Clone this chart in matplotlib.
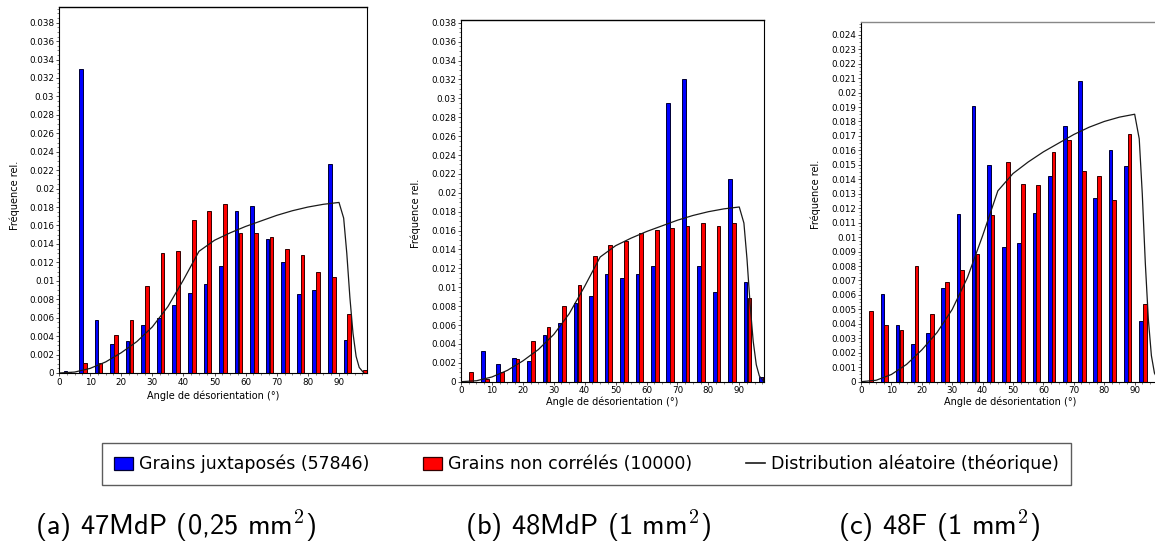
import numpy as np
import matplotlib
matplotlib.use("Agg")
import matplotlib.pyplot as plt
from matplotlib.patches import Patch
from matplotlib.lines import Line2D
from matplotlib.ticker import MultipleLocator, AutoMinorLocator, FuncFormatter
from matplotlib import font_manager

# 5 degree bins
bin_centres = np.arange(2.5, 100, 5)

# (a) 47MdP
a_juxt = [0.0002, 0.0330, 0.0058, 0.0031, 0.0035, 0.0052, 0.0060, 0.0074, 0.0087, 0.0097,
          0.0116, 0.0176, 0.0181, 0.0145, 0.0120, 0.0086, 0.0090, 0.0227, 0.0036, 0.0000]
a_noncorr = [0.0001, 0.0011, 0.0011, 0.0041, 0.0058, 0.0094, 0.0130, 0.0132, 0.0166, 0.0176,
             0.0183, 0.0152, 0.0152, 0.0147, 0.0134, 0.0128, 0.0110, 0.0104, 0.0064, 0.0003]

# (b) 48MdP
b_juxt = [0.0000, 0.0033, 0.0019, 0.0025, 0.0022, 0.0049, 0.0062, 0.0083, 0.0091, 0.0114,
          0.0110, 0.0114, 0.0122, 0.0295, 0.0320, 0.0122, 0.0095, 0.0215, 0.0106, 0.0005]
b_noncorr = [0.0010, 0.0003, 0.0010, 0.0024, 0.0043, 0.0058, 0.0080, 0.0102, 0.0133, 0.0145,
             0.0149, 0.0157, 0.0161, 0.0163, 0.0165, 0.0168, 0.0165, 0.0168, 0.0089, 0.0005]

# (c) 48F
c_juxt = [0.0000, 0.0061, 0.0039, 0.0026, 0.0034, 0.0065, 0.0116, 0.0191, 0.0150, 0.0093,
          0.0096, 0.0117, 0.0142, 0.0177, 0.0208, 0.0127, 0.0160, 0.0149, 0.0042, 0.0000]
c_noncorr = [0.0049, 0.0039, 0.0036, 0.0080, 0.0047, 0.0069, 0.0077, 0.0088, 0.0115, 0.0152,
             0.0137, 0.0136, 0.0159, 0.0167, 0.0146, 0.0142, 0.0126, 0.0171, 0.0054, 0.0000]

# theoretical random distribution
theo_angle = [0, 5, 10, 15, 20, 25, 30, 35, 40, 45, 50, 55, 60, 65, 70, 75, 80, 85, 90,
              91.5, 92.5, 93.5, 94.5, 95.5, 96.5, 98]
theo_freq = [0, 0.0001, 0.0005, 0.0012, 0.0022, 0.0034, 0.0050, 0.0072, 0.0101, 0.0132,
             0.0144, 0.0152, 0.0159, 0.0165, 0.0171, 0.0176, 0.0180, 0.0183, 0.0185,
             0.0168, 0.0130, 0.0082, 0.0043, 0.0018, 0.0006, 0.0]

legend_labels = ["Grains juxtaposés (57846)", "Grains non corrélés (10000)",
                 "Distribution aléatoire (théorique)"]
captions = [r"(a) 47MdP (0,25 mm$^2$)", r"(b) 48MdP (1 mm$^2$)", r"(c) 48F (1 mm$^2$)"]

plt.rcParams["mathtext.fontset"] = "cm"

W, H = 1155, 544
fig = plt.figure(figsize=(W / 100, H / 100), dpi=100)


def px_rect(left, top, right, bottom):
    return [left / W, 1 - bottom / H, (right - left) / W, (bottom - top) / H]


def fmt_freq(v, pos):
    s = f"{v:.3f}".rstrip("0").rstrip(".")
    return s if s else "0"


def draw_panel(rect, juxt, noncorr, xmax, ymax, ystep, ylab_xy, xlab_y, top_colour="black"):
    ax = fig.add_axes(rect)
    ax.bar(bin_centres - 0.45, juxt, width=1.2, color="#0000ff",
           edgecolor="#000033", linewidth=0.7)
    ax.bar(bin_centres + 0.8, noncorr, width=1.2, color="#ff0000",
           edgecolor="#330000", linewidth=0.7)
    ax.plot(theo_angle, theo_freq, color="#1a1a1a", lw=0.9, zorder=3)
    ax.set_xlim(0, xmax)
    ax.set_ylim(0, ymax)
    ax.set_xticks(np.arange(0, 91, 10))
    ax.xaxis.set_minor_locator(MultipleLocator(2.5))
    ax.yaxis.set_major_locator(MultipleLocator(ystep))
    ax.yaxis.set_minor_locator(AutoMinorLocator(4))
    ax.yaxis.set_major_formatter(FuncFormatter(fmt_freq))
    ax.tick_params(which="major", length=2.2, width=0.6, labelsize=6.3, pad=1.2, color="#333333")
    ax.tick_params(which="minor", length=1.2, width=0.5, color="#555555")
    for side in ("left", "bottom", "right"):
        ax.spines[side].set_linewidth(0.8)
    ax.spines["top"].set_linewidth(1.0)
    ax.spines["top"].set_color(top_colour)
    ax.set_ylabel("Fréquence rel.", fontsize=7)
    ax.yaxis.set_label_coords(*ylab_xy)
    ax.set_xlabel("Angle de désorientation (°)", fontsize=7)
    ax.xaxis.set_label_coords(0.5, xlab_y)
    return ax


draw_panel(px_rect(59, 7, 367, 373), a_juxt, a_noncorr, 99, 0.0397, 0.002,
           (-0.127, 0.486), -0.048)
draw_panel(px_rect(461, 20, 764, 381.7), b_juxt, b_noncorr, 98, 0.0383, 0.002,
           (-0.132, 0.466), -0.042)
draw_panel(px_rect(861, 21.7, 1159, 381.7), c_juxt, c_noncorr, 98, 0.0249, 0.001,
           (-0.134, 0.519), -0.042, top_colour="#888888")

# legend font: narrow sans if available
names = {f.name for f in font_manager.fontManager.ttflist}
if "Liberation Sans Narrow" in names:
    leg_font = {"family": "Liberation Sans Narrow", "size": 14.5}
    col_space = 2.0
else:
    leg_font = {"family": "DejaVu Sans", "size": 12.5}
    col_space = 3.1

handles = [Patch(facecolor="#0000ff", edgecolor="#000033", linewidth=0.9),
           Patch(facecolor="#ff0000", edgecolor="#330000", linewidth=0.9),
           Line2D([], [], color="#1a1a1a", lw=1.2)]
leg = fig.legend(handles, legend_labels, loc="center", ncol=3,
                 bbox_to_anchor=(586.5 / W, 1 - 464 / H), prop=leg_font,
                 frameon=True, fancybox=False, shadow=False, handlelength=1.1,
                 handleheight=0.75, handletextpad=0.35, columnspacing=col_space,
                 borderpad=0.7)
leg.get_frame().set_edgecolor("#333333")
leg.get_frame().set_linewidth(1.0)

for x0, text in zip([35, 465, 838], captions):
    fig.text(x0 / W, 9 / H, text, family="cmss10", fontsize=20.5, va="baseline", ha="left")

fig.savefig("out.png", dpi=100)
